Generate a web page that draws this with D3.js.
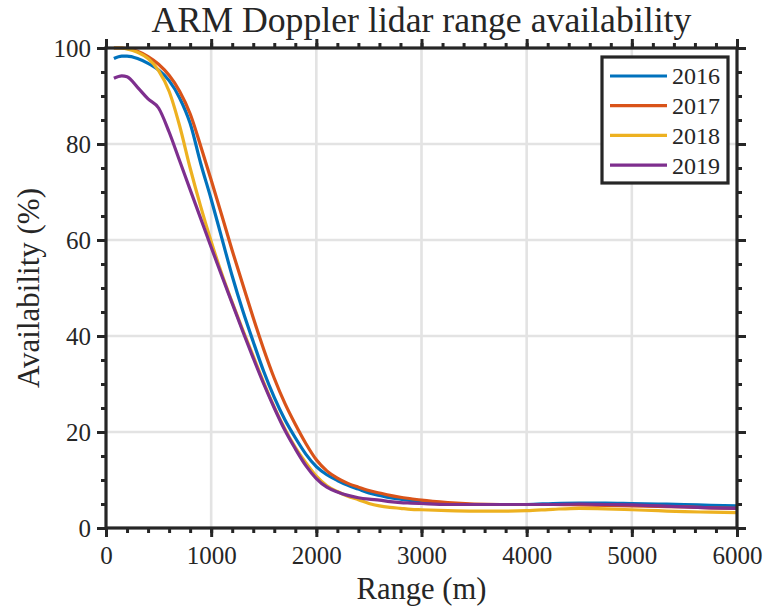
<!DOCTYPE html>
<html>
<head>
<meta charset="utf-8">
<script src="https://cdn.jsdelivr.net/npm/d3@7"></script>
<style>
  body { margin: 0; background: #fff; }
  svg text { font-family: "Liberation Serif", "DejaVu Serif", serif; fill: #262626; }
</style>
</head>
<body>
<svg id="svg" width="768" height="609"></svg>
<script>
// range gates (m)
var ranges = [75, 150, 200, 300, 400, 500, 600, 700, 800, 900, 1000, 1100, 1200, 1300, 1400,
  1500, 1600, 1700, 1800, 1900, 2000, 2100, 2200, 2300, 2400, 2500, 2600, 2700, 2800, 2900,
  3000, 3250, 3500, 3750, 4000, 4250, 4500, 4750, 5000, 5250, 5500, 5750, 6000];

var avail2016 = [97.8, 98.3, 98.3, 97.8, 96.8, 95.4, 93.2, 89.6, 84.3, 76.0, 68.5, 60.5, 52.5,
  45.3, 38.8, 32.6, 27.2, 22.6, 18.8, 15.4, 12.8, 11.1, 9.9, 8.9, 8.1, 7.3, 6.8, 6.3, 6.0, 5.7,
  5.5, 5.1, 4.9, 4.9, 4.9, 5.1, 5.2, 5.2, 5.1, 5.0, 4.9, 4.7, 4.6];

var avail2017 = [100, 100, 99.9, 99.3, 98.2, 96.6, 94.3, 91.0, 86.3, 79.6, 72.5, 65.2, 57.8,
  50.8, 43.8, 37.2, 31.2, 26.0, 21.6, 17.6, 14.2, 11.9, 10.4, 9.3, 8.5, 7.8, 7.3, 6.8, 6.4,
  6.1, 5.8, 5.3, 5.0, 4.9, 4.9, 4.9, 4.8, 4.7, 4.6, 4.5, 4.4, 4.2, 4.1];

var avail2018 = [100, 100, 99.8, 99.1, 97.8, 95.3, 91.0, 83.8, 75.0, 67.0, 59.7, 53.0, 47.0,
  41.3, 35.8, 30.3, 25.2, 20.7, 16.8, 13.6, 10.8, 8.8, 7.6, 6.6, 5.9, 5.1, 4.6, 4.3, 4.1, 3.9,
  3.8, 3.6, 3.5, 3.5, 3.6, 3.9, 4.1, 4.0, 3.8, 3.6, 3.4, 3.3, 3.2];

var avail2019 = [93.7, 94.2, 94.0, 91.8, 89.4, 87.5, 82.5, 76.5, 70.5, 64.5, 58.5, 52.6, 46.8,
  41.0, 35.4, 30.0, 25.0, 20.4, 16.5, 13.0, 10.3, 8.5, 7.5, 6.8, 6.3, 6.0, 5.8, 5.5, 5.3, 5.2,
  5.1, 4.9, 4.9, 4.9, 4.9, 4.9, 5.0, 4.9, 4.8, 4.6, 4.4, 4.2, 4.1];

var years = ["2016", "2017", "2018", "2019"];
var colors = ["#0072BD", "#D95319", "#EDB120", "#7E2F8E"];
var xTicks = [0, 1000, 2000, 3000, 4000, 5000, 6000];
var yTicks = [0, 20, 40, 60, 80, 100];

var series = [avail2016, avail2017, avail2018, avail2019];

var svg = d3.select("#svg");
var axisColor = "#262626";
var fontFamily = '"Liberation Serif", "DejaVu Serif", serif';

var x = d3.scaleLinear().domain([0, 6000]).range([106, 737]);
var y = d3.scaleLinear().domain([0, 100]).range([528, 48]);

// shrink or grow a text until it spans the wanted width
function fitWidth(sel, width) {
  var node = sel.node();
  var size = parseFloat(sel.style("font-size"));
  var w = node.getComputedTextLength();
  if (w > 0) sel.style("font-size", (size * width / w) + "px");
}

// grid
var grid = svg.append("g").attr("class", "grid");
grid.selectAll(".gx").data(xTicks.slice(1, -1)).enter().append("line")
  .attr("x1", d => x(d)).attr("x2", d => x(d))
  .attr("y1", y(0)).attr("y2", y(100))
  .style("stroke", "#e3e3e3").style("stroke-width", 2.6);
grid.selectAll(".gy").data(yTicks.slice(1, -1)).enter().append("line")
  .attr("x1", x(0)).attr("x2", x(6000))
  .attr("y1", d => y(d)).attr("y2", d => y(d))
  .style("stroke", "#e3e3e3").style("stroke-width", 2.6);

// curves
var line = d3.line()
  .x((d, i) => x(ranges[i]))
  .y(d => y(d))
  .curve(d3.curveMonotoneX);

svg.append("g").selectAll("path").data(series).enter().append("path")
  .attr("d", d => line(d))
  .style("fill", "none")
  .style("stroke", (d, i) => colors[i])
  .style("stroke-width", 3.2)
  .style("stroke-linejoin", "round");

// axes, ticks outward on all four sides
var xMinor = d3.range(0, 6001, 200);
var yMinor = d3.range(0, 101, 5);
var fmt = d3.format("d");

var axes = [
  svg.append("g").attr("transform", `translate(0, ${y(0)})`)
    .call(d3.axisBottom(x).tickValues(xMinor).tickSize(5).tickFormat("")),
  svg.append("g").attr("transform", `translate(0, ${y(100)})`)
    .call(d3.axisTop(x).tickValues(xMinor).tickSize(5).tickFormat("")),
  svg.append("g").attr("transform", `translate(${x(0)}, 0)`)
    .call(d3.axisLeft(y).tickValues(yMinor).tickSize(5).tickFormat("")),
  svg.append("g").attr("transform", `translate(${x(6000)}, 0)`)
    .call(d3.axisRight(y).tickValues(yMinor).tickSize(5).tickFormat("")),
  svg.append("g").attr("transform", `translate(0, ${y(0)})`)
    .call(d3.axisBottom(x).tickValues(xTicks).tickSize(9).tickPadding(9).tickFormat(fmt)),
  svg.append("g").attr("transform", `translate(0, ${y(100)})`)
    .call(d3.axisTop(x).tickValues(xTicks).tickSize(9).tickFormat("")),
  svg.append("g").attr("transform", `translate(${x(0)}, 0)`)
    .call(d3.axisLeft(y).tickValues(yTicks).tickSize(9).tickPadding(6).tickFormat(fmt)),
  svg.append("g").attr("transform", `translate(${x(6000)}, 0)`)
    .call(d3.axisRight(y).tickValues(yTicks).tickSize(9).tickFormat(""))
];

axes.forEach(function (g) {
  g.attr("font-family", null);
  g.select(".domain").remove();
  g.selectAll("line").style("stroke", axisColor).style("stroke-width", 3);
  g.selectAll("text").style("font-size", "24px").style("fill", axisColor)
    .style("font-family", fontFamily);
});

// tick labels: "1000" is about 50px wide in the reference
var probe = axes[4].selectAll(".tick text").filter(d => d === 1000);
fitWidth(probe, 50);
var tickSize = probe.style("font-size");
axes[4].selectAll("text").style("font-size", tickSize);
axes[6].selectAll("text").style("font-size", tickSize);

// box
svg.append("rect")
  .attr("x", x(0)).attr("y", y(100))
  .attr("width", x(6000) - x(0)).attr("height", y(0) - y(100))
  .style("fill", "none").style("stroke", axisColor).style("stroke-width", 3.2);

// labels
var title = svg.append("text")
  .attr("x", (x(0) + x(6000)) / 2).attr("y", 32)
  .style("text-anchor", "middle").style("font-size", "26px")
  .style("font-family", fontFamily)
  .text("ARM Doppler lidar range availability");
fitWidth(title, 540);

var xLabel = svg.append("text")
  .attr("x", (x(0) + x(6000)) / 2).attr("y", 599)
  .style("text-anchor", "middle").style("font-size", "25px")
  .style("font-family", fontFamily)
  .text("Range (m)");
fitWidth(xLabel, 130);

var yLabel = svg.append("text")
  .attr("transform", `translate(39, ${(y(0) + y(100)) / 2}) rotate(-90)`)
  .style("text-anchor", "middle").style("font-size", "25px")
  .style("font-family", fontFamily)
  .text("Availability (%)");
fitWidth(yLabel, 200);

// legend
var legend = svg.append("g").attr("transform", "translate(602, 57)");
legend.append("rect")
  .attr("width", 126).attr("height", 126)
  .style("fill", "#fff").style("stroke", axisColor).style("stroke-width", 3.2);
var rows = legend.selectAll(".row").data(years).enter().append("g")
  .attr("transform", (d, i) => `translate(0, ${19 + i * 29.7})`);
rows.append("line")
  .attr("x1", 8).attr("x2", 65).attr("y1", 0).attr("y2", 0)
  .style("stroke", (d, i) => colors[i]).style("stroke-width", 3.2);
var legendText = rows.append("text")
  .attr("x", 70).attr("dy", "0.35em")
  .style("font-size", "24px")
  .style("font-family", fontFamily)
  .text(d => d);
fitWidth(legendText.filter((d, i) => i === 0), 48);
legendText.style("font-size", legendText.filter((d, i) => i === 0).style("font-size"));
</script>
</body>
</html>
